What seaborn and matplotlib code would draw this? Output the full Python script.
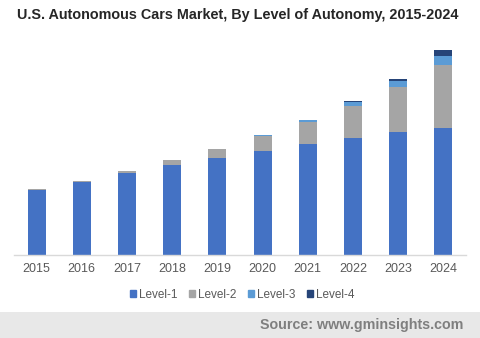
import matplotlib
matplotlib.use("Agg")
import matplotlib.pyplot as plt
import seaborn as sns
import numpy as np
import pandas as pd
from matplotlib.patches import Rectangle

years = ["2015", "2016", "2017", "2018", "2019", "2020", "2021", "2022", "2023", "2024"]
level1 = [65, 73, 82, 90, 97, 104, 111, 117, 123, 127]
level2 = [1, 1, 2, 5, 9, 15, 22, 32, 45, 63]
level3 = [0, 0, 0, 0, 0, 1, 2, 4.3, 6, 9]
level4 = [0, 0, 0, 0, 0, 0, 0, 0.7, 2, 6]
levels = ["Level-1", "Level-2", "Level-3", "Level-4"]
colors = ["#4472C4", "#A5A5A5", "#5B9BD5", "#264478"]

sns.set_style("white")
plt.rcParams["font.family"] = ["Liberation Sans", "DejaVu Sans"]

fig = plt.figure(figsize=(4.8, 3.38), dpi=100)
ax = fig.add_axes([14 / 480, (338 - 255) / 338, 452 / 480, 215 / 338])

series = [level1, level2, level3, level4]
cum = np.cumsum(np.array(series, dtype=float), axis=0)
df = pd.DataFrame({"year": years})
for i in range(3, -1, -1):
    df["v"] = cum[i]
    sns.barplot(data=df, x="year", y="v", color=colors[i], saturation=1,
                width=0.4, linewidth=0, ax=ax, errorbar=None)

ax.set_xlim(-0.5, 9.5)
ax.set_ylim(0, 215)
ax.set_xlabel("")
ax.set_ylabel("")
ax.set_yticks([])
for s in ["top", "left", "right"]:
    ax.spines[s].set_visible(False)
ax.spines["bottom"].set_color("#D9D9D9")
ax.spines["bottom"].set_linewidth(1)
ax.tick_params(axis="x", length=0, labelsize=9, labelcolor="#595959", pad=6)

fig.text(17 / 480, 1 - 15 / 338, "U.S. Autonomous Cars Market, By Level of Autonomy, 2015-2024",
         fontsize=10.4, fontweight="bold", color="#262626", va="center", ha="left")

handles = [Rectangle((0, 0), 1, 1, color=c) for c in colors]
fig.legend(handles, levels, loc="center", bbox_to_anchor=(242 / 480, 1 - 295 / 338),
           ncol=4, frameon=False, fontsize=8.5, handlelength=0.5, handleheight=0.5,
           handletextpad=0.25, columnspacing=1.0, labelcolor="#595959")

fig.patches.append(Rectangle((0, 0), 1, (338 - 312) / 338, transform=fig.transFigure,
                             facecolor="#E8E8E8", edgecolor="none", zorder=0))
fig.text(463 / 480, 1 - 325 / 338, "Source: www.gminsights.com", fontsize=10.3,
         fontweight="bold", color="#7F7F7F", ha="right", va="center")

fig.savefig("out.png", dpi=100)
